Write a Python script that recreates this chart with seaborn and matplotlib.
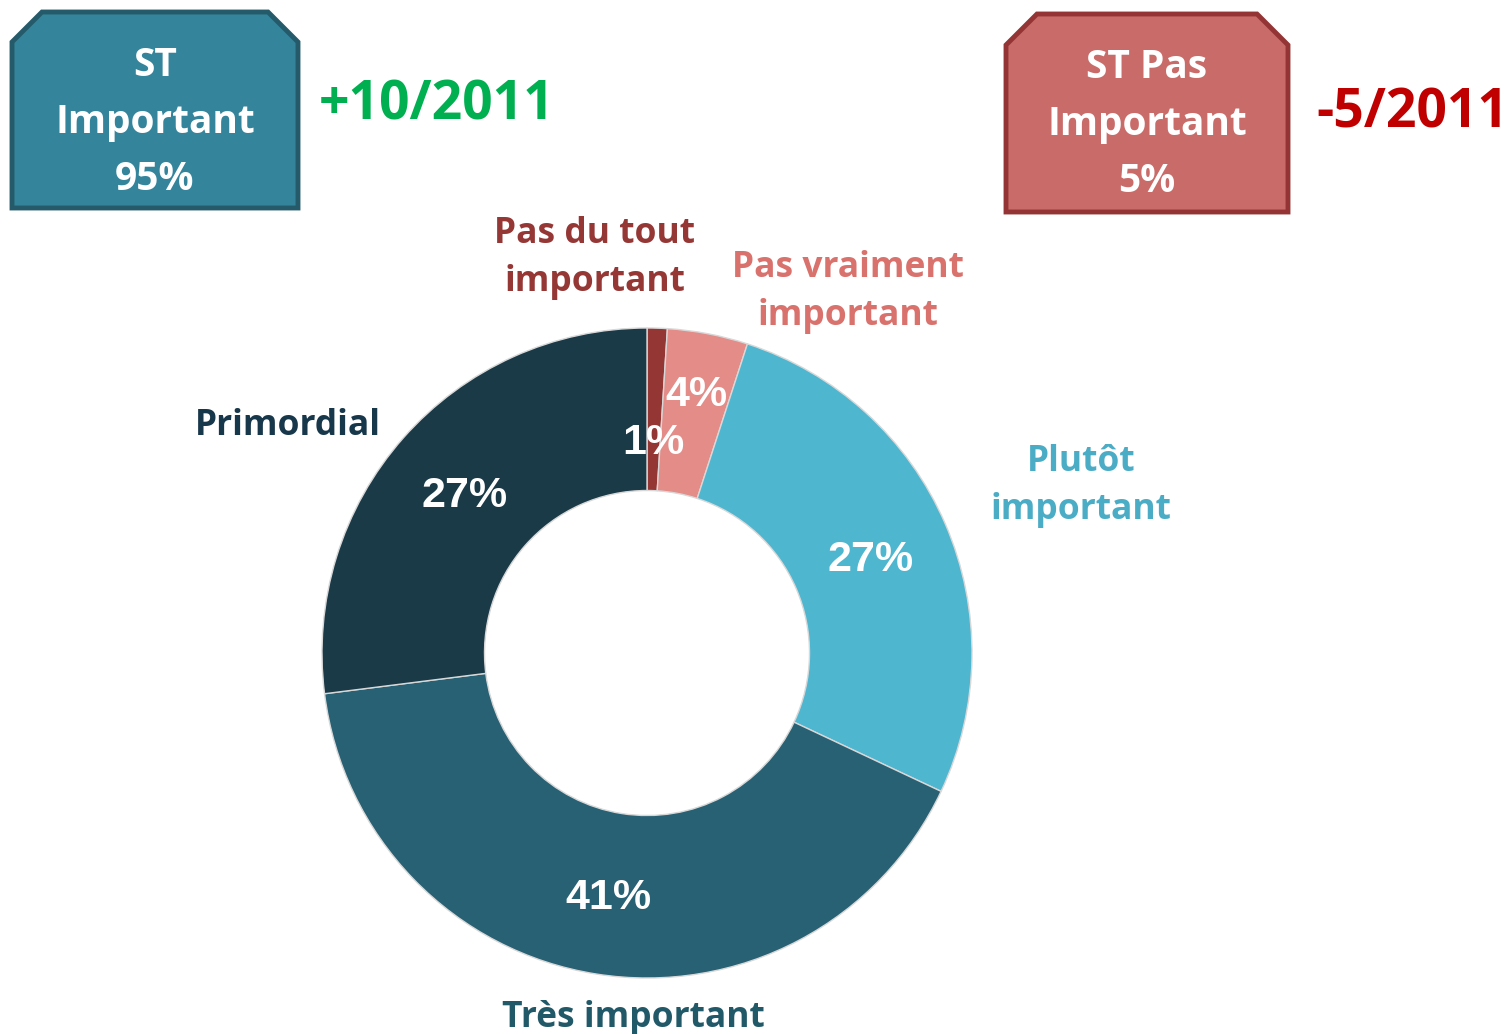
import matplotlib.pyplot as plt
import seaborn as sns
import numpy as np
from matplotlib.patches import Polygon

# data
categories = ["Pas du tout\nimportant", "Pas vraiment\nimportant", "Plutôt\nimportant",
              "Très important", "Primordial"]
shares = [1, 4, 27, 41, 27]
slice_colors = ["#943634", "#E38C88", "#4FB6D0", "#286174", "#1B3A47"]
label_colors = ["#953735", "#D9716C", "#4BACC6", "#215968", "#17374A"]
pct_dist = [0.66, 0.82, 0.75, 0.75, 0.75]   # the two thin slices get nudged
label_pos = [(595, 258), (848, 292), (1081, 486), (633, 1018), (288, 426)]

summary_titles = ["ST\nImportant\n95%", "ST Pas\nImportant\n5%"]
summary_delta = ["+10/2011", "-5/2011"]
delta_colors = ["#00B050", "#C00000"]

W, H = 1512, 1034
sns.set_theme(style="white")
plt.rcParams['font.family'] = ['Open Sans', 'DejaVu Sans']
CAL = ['Open Sans', 'DejaVu Sans']
ARIAL = ['Liberation Sans', 'DejaVu Sans']

fig = plt.figure(figsize=(W / 100, H / 100), dpi=100)
ax = fig.add_axes([0, 0, 1, 1])


def py(y):
    return H - y


cx, cy, R = 647, py(653), 325
wedges, _ = ax.pie(
    shares,
    colors=sns.color_palette(slice_colors),
    startangle=90,
    counterclock=False,
    radius=R,
    center=(cx, cy),
    wedgeprops=dict(width=R * 0.5, edgecolor="#d8d8d8", linewidth=1),
    frame=True,
)
ax.set_xlim(0, W)
ax.set_ylim(0, H)
ax.set_axis_off()

for w, v, d in zip(wedges, shares, pct_dist):
    mid = np.deg2rad((w.theta1 + w.theta2) / 2)
    ax.text(cx + R * d * np.cos(mid), cy + R * d * np.sin(mid) - 4, f"{v}%",
            ha="center", va="center", color="white", fontsize=31,
            fontweight="bold", family=ARIAL)

for name, col, (x, y) in zip(categories, label_colors, label_pos):
    ax.text(x, py(y), name, ha="center", va="center", color=col, fontsize=25.5,
            fontweight="bold", family=CAL, linespacing=1.45)


def bevel_box(x0, y0, x1, y1, b, face, edge):
    pts = [(x0, py(y0 + b)), (x0 + b, py(y0)), (x1 - b, py(y0)), (x1, py(y0 + b)),
           (x1, py(y1)), (x0, py(y1))]
    ax.add_patch(Polygon(pts, closed=True, facecolor=face, edgecolor=edge, linewidth=3.5))


bevel_box(12, 12, 298, 208, 30, "#34849B", "#245A6A")
bevel_box(1006, 14, 1288, 212, 31, "#C96B69", "#943434")

ax.text(155, py(122), summary_titles[0], ha="center", va="center", color="white",
        fontsize=28, fontweight="bold", family=CAL, linespacing=1.6)
ax.text(1147, py(125), summary_titles[1], ha="center", va="center", color="white",
        fontsize=28, fontweight="bold", family=CAL, linespacing=1.6)
ax.text(437, py(105), summary_delta[0], ha="center", va="center", color=delta_colors[0],
        fontsize=38.5, fontweight="bold", family=CAL)
ax.text(1412, py(114), summary_delta[1], ha="center", va="center", color=delta_colors[1],
        fontsize=38.5, fontweight="bold", family=CAL)

fig.savefig("out.png", dpi=100)
